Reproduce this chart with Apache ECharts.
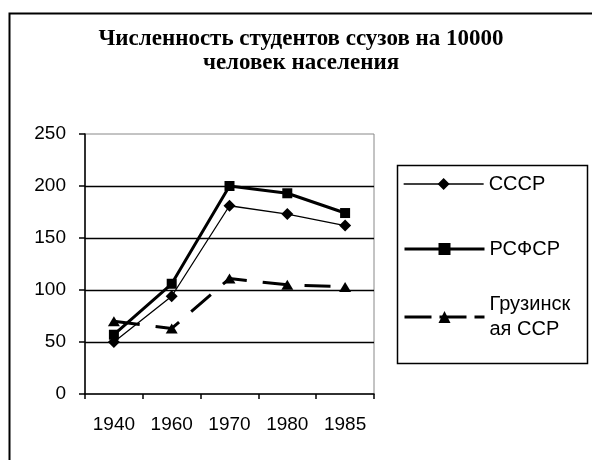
<!DOCTYPE html>
<html>
<head>
<meta charset="utf-8">
<script src="https://cdn.jsdelivr.net/npm/echarts@6/dist/echarts.min.js"></script>
<style>
html,body{margin:0;padding:0;background:#fff;}
#chart{width:592px;height:460px;}
</style>
</head>
<body>
<div id="chart"></div>
<script>
var titleText = 'Численность студентов ссузов на 10000\nчеловек населения';
var categories = ['1940', '1960', '1970', '1980', '1985'];
var seriesNames = ['СССР', 'РСФСР', 'Грузинская ССР'];
var ussr = [50, 94, 181, 173, 162];
var rsfsr = [57, 106, 200, 193, 174];
var georgia = [70, 63, 111, 105, 103];
var yMin = 0, yMax = 250, yStep = 50;

var chart = echarts.init(document.getElementById('chart'), null, {renderer: 'canvas'});
var sans = 'Liberation Sans';
var legendText = {fontFamily: sans, fontSize: 20, color: '#000', lineHeight: 25};

function mkLegend(name, top, lw, dash, extraText) {
  var ls = {width: lw, color: '#000'};
  if (dash) ls.type = dash;
  return {
    data: [{name: name, textStyle: extraText || {}}],
    orient: 'vertical',
    left: 403,
    top: top,
    padding: 0,
    itemWidth: 80,
    itemHeight: 15,
    lineStyle: ls,
    textStyle: legendText,
    formatter: function (n) { return n === 'Грузинская ССР' ? 'Грузинск\nая ССР' : n; }
  };
}

chart.setOption({
  backgroundColor: '#fff',
  animation: false,
  title: {
    text: titleText,
    left: 301,
    textAlign: 'center',
    top: 27,
    padding: 0,
    textStyle: {fontFamily: 'Liberation Serif', fontWeight: 'bold', fontSize: 23, lineHeight: 24, color: '#000'}
  },
  graphic: [
    {type: 'rect', left: 7, top: 11, shape: {width: 700, height: 600}, style: {fill: 'none', stroke: '#000', lineWidth: 2}, silent: true},
    {type: 'rect', left: 395, top: 163, shape: {width: 190, height: 198}, style: {fill: 'none', stroke: '#000', lineWidth: 1.5}, silent: true}
  ],
  legend: [
    mkLegend(seriesNames[0], 184 - 12.5, 1.3),
    mkLegend(seriesNames[1], 249 - 12.5, 3),
    mkLegend(seriesNames[2], 317 - 37.5, 3, [27, 8], {padding: [25, 0, 0, 0]})
  ],
  grid: {left: 85, right: 218, top: 134, bottom: 66, show: true, borderColor: '#888', borderWidth: 1, containLabel: false},
  xAxis: {
    type: 'category',
    data: categories,
    boundaryGap: true,
    axisLine: {lineStyle: {color: '#000', width: 1.5}},
    axisTick: {show: true, inside: false, length: 5, lineStyle: {color: '#000', width: 1.5}},
    axisLabel: {fontFamily: sans, fontSize: 19, color: '#000', margin: 21}
  },
  yAxis: {
    type: 'value',
    min: yMin, max: yMax, interval: yStep,
    axisLine: {show: true, lineStyle: {color: '#000', width: 1.5}},
    axisTick: {show: true, inside: false, length: 6, lineStyle: {color: '#000', width: 1.5}},
    axisLabel: {fontFamily: sans, fontSize: 19, color: '#000', margin: 19},
    splitLine: {show: true, showMaxLine: false, showMinLine: false, lineStyle: {color: '#000', width: 1.4}}
  },
  series: [
    {name: seriesNames[0], type: 'line', data: ussr, symbol: 'diamond', symbolSize: 12,
     lineStyle: {color: '#000', width: 1.3}, itemStyle: {color: '#000'}, z: 4},
    {name: seriesNames[1], type: 'line', data: rsfsr, symbol: 'rect', symbolSize: 10,
     lineStyle: {color: '#000', width: 3}, itemStyle: {color: '#000'}, z: 3},
    {name: seriesNames[2], type: 'line', data: georgia, symbol: 'triangle', symbolSize: [12, 10],
     lineStyle: {color: '#000', width: 3, type: [26, 16]}, itemStyle: {color: '#000'}, z: 2}
  ]
});
</script>
</body>
</html>
